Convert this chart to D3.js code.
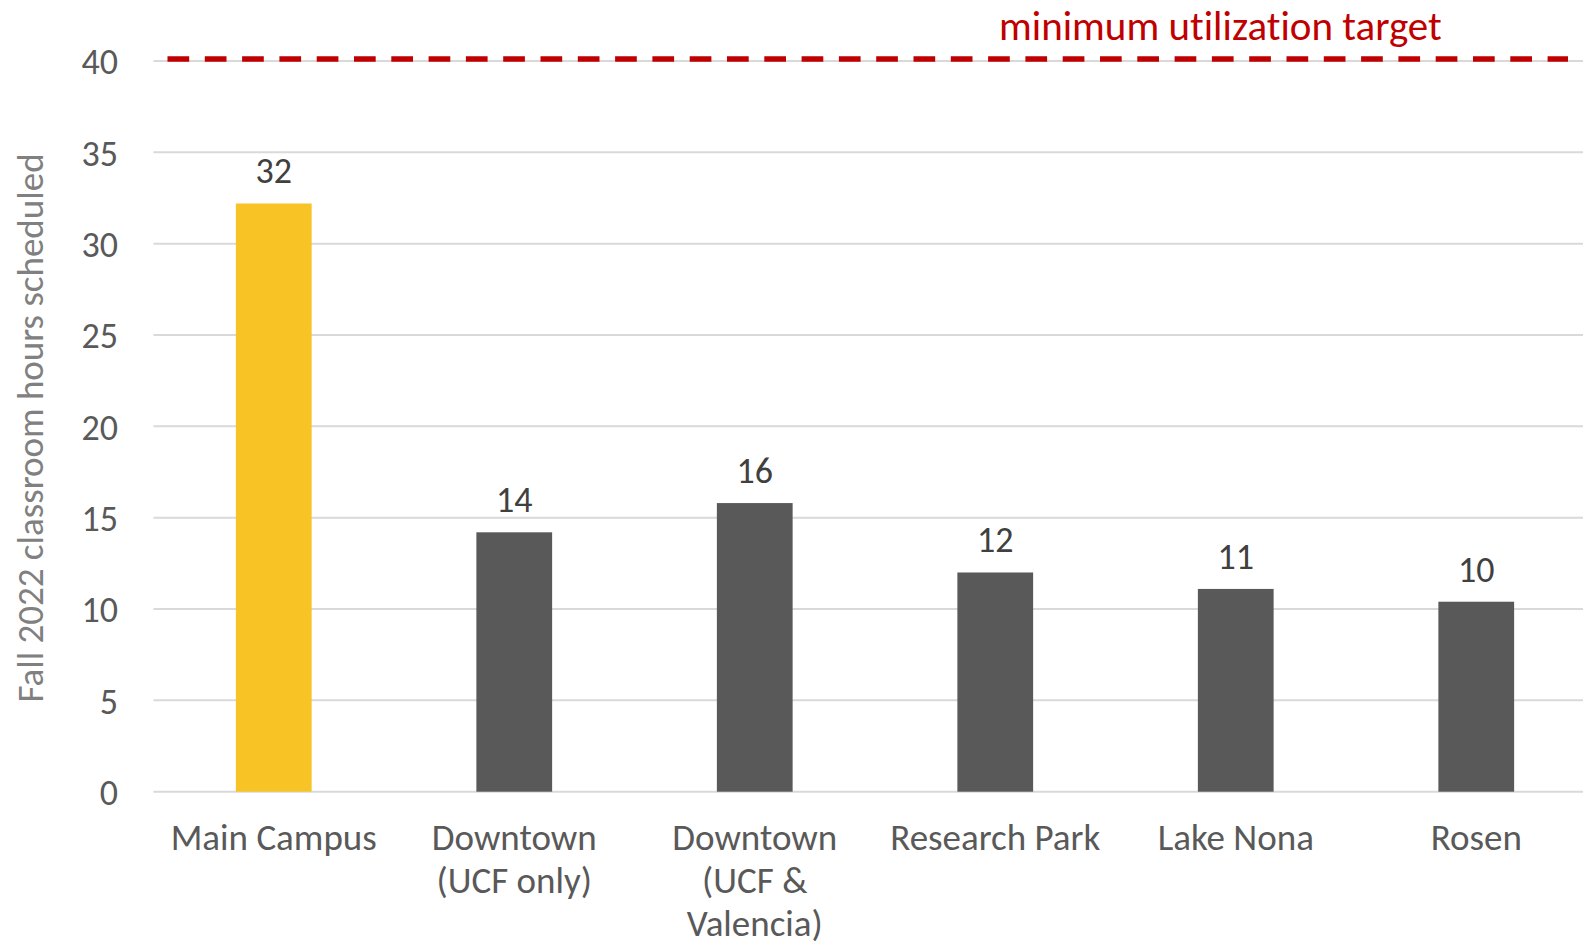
<!DOCTYPE html>
<html>
<head>
<meta charset="utf-8">
<script src="https://cdn.jsdelivr.net/npm/d3@7"></script>
<style>
  html, body { margin: 0; padding: 0; background: #fff; overflow: hidden; }
  svg text { font-family: Carlito, Calibri, Lato, "Open Sans", sans-serif; font-variant-ligatures: none; }
</style>
</head>
<body>
<svg id="chart" width="1583" height="947"></svg>
<script>
// Campus labels (multi-line where the axis wraps them)
const campuses = [
  ["Main Campus"],
  ["Downtown", "(UCF only)"],
  ["Downtown", "(UCF &", "Valencia)"],
  ["Research Park"],
  ["Lake Nona"],
  ["Rosen"]
];
// Average classroom hours scheduled per week, Fall 2022
const hours = [32.2, 14.2, 15.8, 12.0, 11.1, 10.4];
const highlight = [true, false, false, false, false, false];
const yTicks = [0, 5, 10, 15, 20, 25, 30, 35, 40];
const targetHours = 40;
const targetLabel = "minimum utilization target";
const yTitle = "Fall 2022 classroom hours scheduled";

const svg = d3.select("#chart");
const W = 1583, H = 947;
const plot = { left: 153.5, right: 1596.5, top: 61, bottom: 791.7 };

const keys = campuses.map((c, i) => i);
const x = d3.scaleBand().domain(keys).range([plot.left, plot.right]).paddingInner(0.685).paddingOuter(0.3425);
const y = d3.scaleLinear().domain([0, 40]).range([plot.bottom, plot.top]);

// Horizontal gridlines
svg.append("g").selectAll("line").data(yTicks).join("line")
  .attr("x1", plot.left).attr("x2", W)
  .attr("y1", d => y(d)).attr("y2", d => y(d))
  .attr("stroke", "#d9d9d9").attr("stroke-width", 2);

// Y axis labels
const yAxis = d3.axisLeft(y).tickValues(yTicks).tickSize(0).tickPadding(0);
const gy = svg.append("g").attr("transform", `translate(118,0)`).call(yAxis);
gy.select(".domain").remove();
gy.selectAll("text").attr("fill", "#595959").style("font-size", "36px")
  .style("font-family", null)
  .attr("dy", "0.36em");

// Axis title
svg.append("text")
  .attr("transform", `translate(43,428) rotate(-90)`)
  .attr("text-anchor", "middle")
  .attr("fill", "#808080")
  .style("font-size", "37px")
  .text(yTitle);

// Bars
svg.append("g").selectAll("rect").data(hours).join("rect")
  .attr("x", (d, i) => x(i))
  .attr("width", x.bandwidth())
  .attr("y", d => y(d))
  .attr("height", d => y(0) - y(d))
  .attr("fill", (d, i) => highlight[i] ? "#F8C325" : "#595959");

// Value labels
svg.append("g").selectAll("text").data(hours).join("text")
  .attr("x", (d, i) => x(i) + x.bandwidth() / 2)
  .attr("y", d => y(d) - 20)
  .attr("text-anchor", "middle")
  .attr("fill", "#404040")
  .style("font-size", "36px")
  .text(d => d3.format(".0f")(d));

// Category labels
const cat = svg.append("g").selectAll("text").data(campuses).join("text")
  .attr("x", (d, i) => x(i) + x.bandwidth() / 2)
  .attr("y", 850)
  .attr("text-anchor", "middle")
  .attr("fill", "#595959")
  .style("font-size", "37px");
cat.selectAll("tspan").data(d => d).join("tspan")
  .attr("x", function () { return d3.select(this.parentNode).attr("x"); })
  .attr("dy", (d, j) => j === 0 ? 0 : 43)
  .text(d => d);

// Target line at 40 hours
svg.append("line")
  .attr("x1", plot.left + 14).attr("x2", W - 15)
  .attr("y1", y(targetHours) - 2).attr("y2", y(targetHours) - 2)
  .attr("stroke", "#C00000").attr("stroke-width", 5.5)
  .attr("stroke-dasharray", "21.7 15.6");

svg.append("text")
  .attr("x", 999)
  .attr("y", 40)
  .attr("fill", "#C00000")
  .style("font-size", "41px")
  .text(targetLabel);
</script>
</body>
</html>
